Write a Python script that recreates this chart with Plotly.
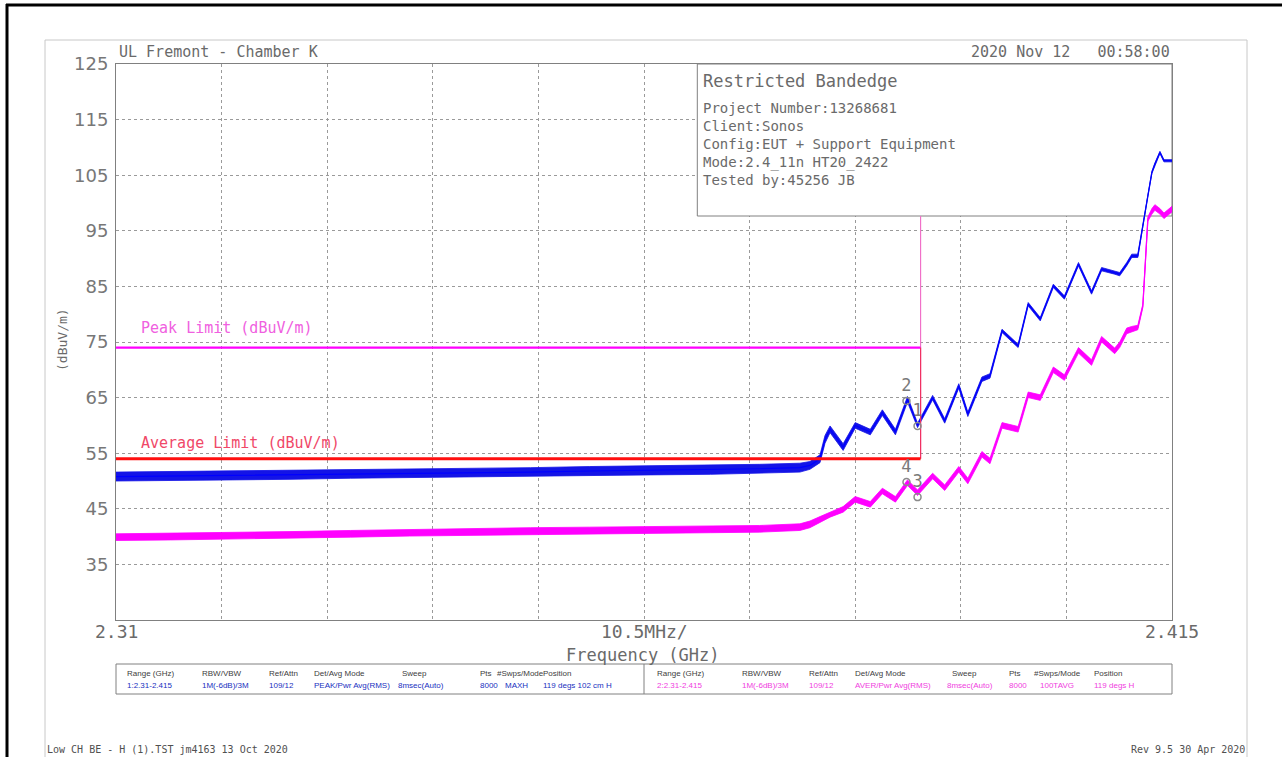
import plotly.graph_objects as go

# ---------------- data ----------------
freq_ghz = [2.3100, 2.3154, 2.3213, 2.3273, 2.3333, 2.3392, 2.3452, 2.3512, 2.3571, 2.3631,
            2.3691, 2.3740, 2.3780, 2.3790, 2.3800, 2.3805, 2.3810, 2.3823, 2.3835, 2.3850,
            2.3862, 2.3875, 2.3887, 2.3897, 2.3912, 2.3924, 2.3938, 2.3947, 2.3961, 2.3969,
            2.3981, 2.3997, 2.4007, 2.4019, 2.4032, 2.4043, 2.4057, 2.4070, 2.4080, 2.4093,
            2.4098, 2.4105, 2.4110, 2.4116, 2.4121, 2.4126, 2.4130, 2.4133, 2.4138, 2.4142,
            2.4150]

peak_dbuv = [50.8, 50.9, 51.0, 51.1, 51.3, 51.4, 51.5, 51.6, 51.8, 51.9,
             52.0, 52.2, 52.4, 52.8, 54.0, 57.5, 59.3, 56.1, 60.0, 58.8,
             62.3, 58.8, 64.7, 60.0, 65.0, 60.8, 67.1, 62.0, 68.3, 68.9,
             77.0, 74.3, 81.8, 79.1, 85.1, 83.0, 89.0, 83.9, 88.1, 87.5,
             87.2, 89.0, 90.5, 90.5, 96.0, 101.5, 105.5, 107.0, 109.1, 107.6,
             107.6]
peak_spread = [0.8, 0.8, 0.8, 0.8, 0.8, 0.8, 0.8, 0.8, 0.8, 0.8,
               0.8, 0.8, 0.8, 0.7, 0.7, 0.7, 0.6, 0.6, 0.5, 0.5,
               0.5, 0.5, 0.5, 0.4, 0.4, 0.4, 0.4, 0.4, 0.4, 0.4,
               0.3, 0.3, 0.3, 0.3, 0.3, 0.3, 0.3, 0.3, 0.3, 0.3,
               0.3, 0.3, 0.3, 0.3, 0.2, 0.2, 0.2, 0.2, 0.2, 0.2,
               0.2]

avg_dbuv = [39.9, 40.0, 40.1, 40.3, 40.5, 40.7, 40.9, 41.0, 41.1, 41.2,
            41.3, 41.4, 41.7, 42.2, 43.1, 43.5, 44.0, 44.9, 46.7, 45.8,
            48.2, 46.7, 49.7, 47.9, 50.9, 48.8, 52.1, 50.0, 54.8, 53.6,
            60.0, 59.3, 65.5, 65.0, 70.0, 68.6, 73.5, 71.3, 75.5, 73.4,
            74.5, 77.0, 77.3, 77.6, 81.5, 97.1, 98.5, 99.2, 98.5, 97.7,
            98.9]
avg_spread = [0.6, 0.6, 0.6, 0.6, 0.6, 0.6, 0.6, 0.6, 0.6, 0.6,
              0.6, 0.6, 0.6, 0.6, 0.5, 0.5, 0.5, 0.5, 0.5, 0.5,
              0.5, 0.5, 0.5, 0.5, 0.5, 0.5, 0.5, 0.5, 0.5, 0.5,
              0.5, 0.5, 0.5, 0.5, 0.5, 0.5, 0.5, 0.5, 0.5, 0.5,
              0.5, 0.5, 0.5, 0.4, 0.3, 0.4, 0.5, 0.5, 0.5, 0.5,
              0.5]

limit_freq = [2.31, 2.39]
peak_limit = [74, 74]
avg_limit = [54, 54]
band_edge_freq = [2.39, 2.39]
band_edge_level = [54, 97.66]

marker_labels = ["1", "2", "3", "4"]
marker_freq = [2.3897, 2.3886, 2.3897, 2.3886]
marker_level = [59.9, 64.4, 47.1, 49.8]

y_ticks = [25, 35, 45, 55, 65, 75, 85, 95, 105, 115, 125]
y_ticktext = ["", "35", "45", "55", "65", "75", "85", "95", "105", "115", "125"]
x_grid = [2.31 + 0.0105 * i for i in range(11)]

info_lines = ["Project Number:13268681", "Client:Sonos", "Config:EUT + Support Equipment",
              "Mode:2.4_11n HT20_2422", "Tested by:45256 JB"]

table_headers = ["Range (GHz)", "RBW/VBW", "Ref/Attn", "Det/Avg Mode", "Sweep", "Pts",
                 "#Swps/Mode", "Position"]
table_left_vals = ["1:2.31-2.415", "1M(-6dB)/3M", "109/12", "PEAK/Pwr Avg(RMS)",
                   "8msec(Auto)", "8000", "MAXH", "119 degs 102 cm H"]
table_right_vals = ["2:2.31-2.415", "1M(-6dB)/3M", "109/12", "AVER/Pwr Avg(RMS)",
                    "8msec(Auto)", "8000", "100TAVG", "119 degs H"]

# ---------------- layout helpers ----------------
W, H = 1282, 757
PL, PR, PT, PB = 116, 1172, 64, 620
FONT = "DejaVu Sans Mono"
TFONT = "Liberation Sans"
TXT = "#6a6a6a"


def px(xp):
    return (xp - PL) / (PR - PL)


def py(yp):
    return (PB - yp) / (PB - PT)


def band(xs, center, spread):
    hi = [c + s for c, s in zip(center, spread)]
    lo = [c - s for c, s in zip(center, spread)]
    return list(xs) + list(xs)[::-1], hi + lo[::-1]


fig = go.Figure()

bx, by = band(freq_ghz, avg_dbuv, avg_spread)
fig.add_trace(go.Scatter(x=bx, y=by, fill="toself", fillcolor="#ff00ff", mode="lines",
                         line=dict(color="#ff00ff", width=0.8), hoverinfo="skip", showlegend=False))
fig.add_trace(go.Scatter(x=freq_ghz, y=avg_dbuv, mode="lines", line=dict(color="#ff00ff", width=1.2),
                         showlegend=False, name="Average"))

bx, by = band(freq_ghz, peak_dbuv, peak_spread)
fig.add_trace(go.Scatter(x=bx, y=by, fill="toself", fillcolor="#1414e6", mode="lines",
                         line=dict(color="#1414e6", width=0.8), hoverinfo="skip", showlegend=False))
fig.add_trace(go.Scatter(x=freq_ghz, y=peak_dbuv, mode="lines", line=dict(color="#0000ff", width=1.2),
                         showlegend=False, name="Peak"))

fig.add_trace(go.Scatter(x=band_edge_freq, y=band_edge_level, mode="lines",
                         line=dict(color="#f070c8", width=1.2), showlegend=False))
fig.add_trace(go.Scatter(x=limit_freq, y=peak_limit, mode="lines",
                         line=dict(color="#ff00ff", width=2.2), showlegend=False))
fig.add_trace(go.Scatter(x=[limit_freq[1], limit_freq[1]], y=[avg_limit[1], peak_limit[1]], mode="lines",
                         line=dict(color="#f03060", width=1.2), showlegend=False))
fig.add_trace(go.Scatter(x=limit_freq, y=avg_limit, mode="lines",
                         line=dict(color="#ff1010", width=2.8), showlegend=False))

fig.add_trace(go.Scatter(x=marker_freq, y=marker_level, mode="markers+text", text=marker_labels,
                         textposition="top center",
                         textfont=dict(family=FONT, size=17, color="#7a7a7a"),
                         marker=dict(symbol="circle-open", size=7, color="#8a8a8a", line=dict(width=1.5)),
                         showlegend=False))

annotations = []


def note(text, xp, yp, size, color=TXT, xanchor="left", yanchor="middle", angle=0, family=FONT):
    annotations.append(dict(text=text, x=px(xp), y=py(yp), xref="paper", yref="paper",
                            xanchor=xanchor, yanchor=yanchor, showarrow=False, textangle=angle,
                            font=dict(family=family, size=size, color=color)))


note("UL Fremont - Chamber K", 117, 52, 15)
note("2020 Nov 12\u00a0\u00a0\u00a000:58:00", 1172, 52, 15, xanchor="right")
note("Restricted Bandedge", 701, 81, 17)
for i, line in enumerate(info_lines):
    note(line, 701, 108 + 18 * i, 14)

note("Peak Limit (dBuV/m)", 139, 328, 15, color="#f060e0")
note("Average Limit (dBuV/m)", 139, 443, 15, color="#f04868")

note("(dBuV/m)", 62, 340, 13, xanchor="center", angle=-90)
note("2.31", 116, 631, 18, xanchor="center")
note("10.5MHz/", 644, 631, 18, xanchor="center")
note("2.415", 1172, 631, 18, xanchor="center")
note("Frequency (GHz)", 643, 655, 17, xanchor="center")

left_head_x = [125, 200, 267, 312, 400, 478, 495, 541]
left_val_x = [125, 200, 267, 312, 396, 478, 503, 541]
right_head_x = [655, 740, 807, 853, 950, 1007, 1032, 1092]
right_val_x = [655, 740, 807, 853, 945, 1007, 1038, 1092]
for hx, vx, h, v in zip(left_head_x, left_val_x, table_headers, table_left_vals):
    note(h, hx, 673, 8, color="#404040", family=TFONT)
    note(v, vx, 685, 8, color="#2030c0", family=TFONT)
for hx, vx, h, v in zip(right_head_x, right_val_x, table_headers, table_right_vals):
    note(h, hx, 673, 8, color="#404040", family=TFONT)
    note(v, vx, 685, 8, color="#f040e0", family=TFONT)

note("Low CH BE - H (1).TST jm4163 13 Oct 2020", 45, 749, 10, color="#505050")
note("Rev 9.5 30 Apr 2020", 1247, 749, 10, color="#505050", xanchor="right")

shapes = [
    # info box
    dict(type="rect", xref="x", yref="y", x0=2.3678, x1=2.415, y0=97.66, y1=125,
         fillcolor="white", line=dict(color="#808080", width=1), layer="between"),
    # outer black frame
    dict(type="line", xref="paper", yref="paper", x0=px(6), x1=px(1290), y0=py(5), y1=py(5),
         line=dict(color="black", width=3)),
    dict(type="line", xref="paper", yref="paper", x0=px(7), x1=px(7), y0=py(4), y1=py(770),
         line=dict(color="black", width=3)),
    # inner gray frame
    dict(type="rect", xref="paper", yref="paper", x0=px(45), x1=px(1247), y0=py(40), y1=py(775),
         line=dict(color="#c8c8c8", width=1)),
    # table box
    dict(type="rect", xref="paper", yref="paper", x0=px(116), x1=px(1172), y0=py(664), y1=py(694),
         line=dict(color="#808080", width=1)),
    dict(type="line", xref="paper", yref="paper", x0=px(644), x1=px(644), y0=py(664), y1=py(694),
         line=dict(color="#808080", width=1)),
]

fig.update_layout(
    width=W, height=H, autosize=False,
    margin=dict(l=PL, r=W - PR, t=PT, b=H - PB, pad=0),
    paper_bgcolor="white", plot_bgcolor="white",
    showlegend=False,
    annotations=annotations, shapes=shapes,
    xaxis=dict(range=[2.31, 2.415], tickvals=x_grid, showticklabels=False, ticks="",
               showgrid=True, gridcolor="#9a9a9a", griddash="dot", gridwidth=1,
               showline=True, mirror=True, linecolor="#808080", linewidth=1, zeroline=False),
    yaxis=dict(range=[25, 125], tickvals=y_ticks, ticktext=y_ticktext, ticks="",
               tickfont=dict(family="DejaVu Sans", size=18, color="#777777"),
               ticklabelstandoff=3,
               showgrid=True, gridcolor="#9a9a9a", griddash="dot", gridwidth=1,
               showline=True, mirror=True, linecolor="#808080", linewidth=1, zeroline=False),
)

fig.write_html("out.html", config={"displayModeBar": False},
               post_script="document.body.style.margin='0';document.body.style.padding='0';"
                           "document.body.style.overflow='hidden';")
